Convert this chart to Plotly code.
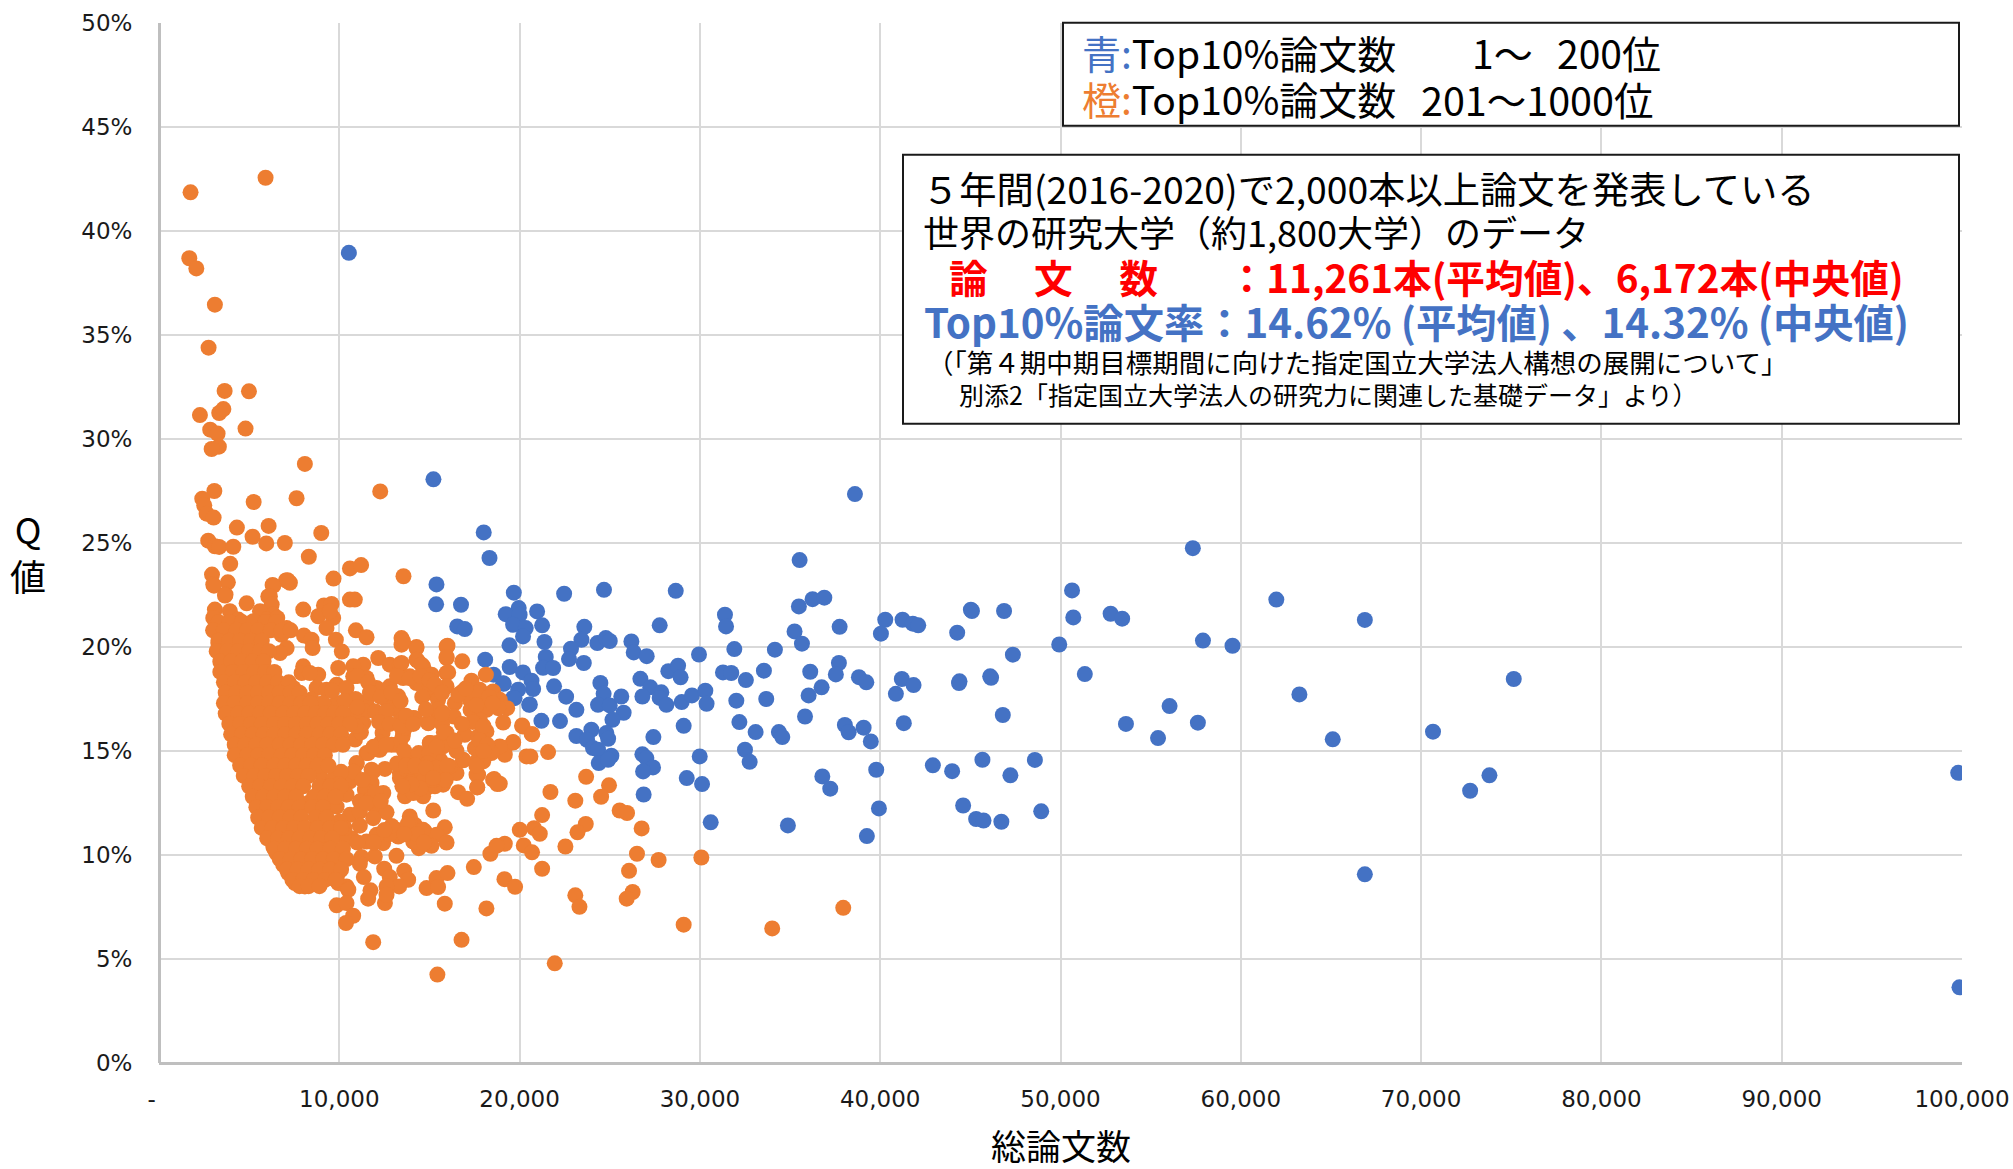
import plotly.graph_objects as go

W, H = 2013, 1169
L, R, T, B = 159, 1962, 23.3, 1063.3

# (total papers in thousands, Q value in %)
blue_points = [
(19.68,22.61),(22.47,22.56),(24.68,22.75),(28.66,22.70),(35.53,24.18),(19.95,21.87),(19.23,21.58),(20.97,21.71),(20.0,21.55),(21.25,21.04),
(19.64,21.07),(20.34,20.91),(20.19,20.51),(19.44,20.08),(21.38,20.24),(23.59,20.97),(23.43,20.35),(22.85,19.92),(22.74,19.42),(23.56,19.23),
(21.45,19.52),(21.30,19.0),(21.86,18.99),(24.31,20.19),(24.78,20.43),(25.0,20.29),(27.77,21.04),(26.2,20.27),(26.33,19.74),(27.05,19.56),
(31.39,21.55),(31.45,20.99),(29.95,19.64),(31.91,19.9),(35.49,21.95),(36.25,22.3),(36.9,22.37),(35.25,20.75),(35.66,20.16),(34.16,19.87),
(37.75,20.97),(40.28,21.31),(40.04,20.64),(41.24,21.31),(41.81,21.12),(42.11,21.04),(45.03,21.79),(44.27,20.69),(46.87,21.73),
(19.45,19.04),(20.19,18.78),(20.66,18.38),(20.75,17.98),(19.92,17.95),(19.64,17.55),(19.12,18.23),(20.53,17.22),(21.91,18.11),(22.58,17.61),
(23.15,16.98),(21.21,16.45),(22.24,16.44),(24.48,18.27),(24.66,17.75),(24.35,17.22),(25.0,17.19),(25.64,17.62),(25.77,16.84),(25.15,16.5),
(26.7,18.47),(27.25,18.06),(27.86,17.82),(26.81,17.62),(27.77,17.55),(28.14,17.22),(28.25,18.84),(28.79,19.1),(28.93,18.54),(28.99,17.35),
(29.56,17.67),(30.3,17.9),(30.37,17.27),(29.1,16.21),(31.28,18.78),(31.74,18.75),(32.55,18.41),(33.55,18.86),(32.02,17.42),(33.68,17.5),
(32.19,16.39),(33.09,15.91),(34.38,15.91),(34.57,15.67),(36.12,18.81),(37.71,19.23),(37.54,18.68),(36.75,18.06),(36.03,17.67),(35.83,16.66),
(38.82,18.55),(39.23,18.3),(41.2,18.46),(41.85,18.17),(40.87,17.75),(41.31,16.34),(44.4,18.35),(46.1,18.59),(46.8,16.73),(38.04,16.25),
(38.25,15.9),(39.08,16.12),(39.48,15.46),(23.15,15.72),(23.98,16.02),(23.74,15.54),(24.81,15.86),(24.91,15.59),(24.07,15.14),(24.35,15.06),
(24.39,14.42),(25.09,14.77),(24.91,14.58),(27.42,15.67),(26.81,14.84),(27.03,14.66),(27.4,14.21),(26.85,14.02),(26.88,12.91),(29.99,14.74),
(29.27,13.7),(30.12,13.41),(32.5,15.06),(32.76,14.48),(30.6,11.57),(34.88,11.42),(36.79,13.78),(37.23,13.19),(39.78,14.1),(39.93,12.24),
(39.26,10.91),(42.92,14.31),(43.99,14.03),(45.67,14.58),(44.6,12.38),(45.32,11.73),(45.73,11.66),(46.72,11.6),
(10.53,38.95),(15.22,28.06),(18.01,25.51),(18.33,24.28),(15.39,23.01),(15.37,22.05),(16.75,22.03),(16.54,20.99),(16.96,20.86),(18.09,19.39),
(18.56,18.67),(19.09,18.26),(19.72,17.54),(20.57,17.24),
(38.6,27.35),(57.34,24.75),(50.64,22.72),(61.97,22.28),(66.88,21.3),(52.78,21.6),(50.71,21.42),(53.42,21.36),(45.09,21.73),(57.9,20.31),
(59.54,20.06),(49.93,20.12),(47.36,19.63),(51.35,18.7),(75.14,18.46),(46.15,18.52),(44.37,18.27),(63.25,17.72),(56.05,17.16),(53.63,16.3),
(57.62,16.36),(55.41,15.62),(65.1,15.56),(70.66,15.93),(48.58,14.57),(73.79,13.83),(47.22,13.83),(72.72,13.09),(99.79,13.95),(48.93,12.1),
(66.88,9.07),(99.86,3.64),
]

orange_sparse = [
(18.9,13.43),(20.16,16.18),(20.67,15.81),(19.64,15.41),(19.18,15.14),(19.18,14.82),(20.38,14.74),(20.6,14.74),(21.58,14.95),(23.69,13.76),
(24.96,13.35),(24.52,12.8),(21.71,13.03),(23.09,12.61),(21.25,11.92),(25.55,12.14),(25.96,12.02),(26.77,11.28),(20.01,11.21),(20.8,11.29),
(21.12,11.02),(23.67,11.49),(23.21,11.09),(19.18,10.54),(20.23,10.46),(20.69,10.13),(22.54,10.41),(26.51,10.06),(27.71,9.76),(30.08,9.88),
(21.25,9.34),(26.07,9.24),(19.16,8.84),(19.75,8.47),(23.09,8.06),(23.32,7.51),(26.27,8.22),(25.94,7.90),(29.1,6.65),(34.01,6.47),(37.95,7.46),(21.95,4.79),
(5.91,42.56),(1.75,41.86),(1.68,38.69),(2.07,38.2),(3.1,36.46),(2.75,34.39),(3.64,32.31),(4.99,32.29),(2.27,31.15),(3.34,31.25),(3.57,31.44),
(4.8,30.5),(2.84,30.45),(3.25,30.26),(3.32,29.63),(2.92,29.52),(8.09,28.8),(12.27,27.48),(3.07,27.5),(2.4,27.13),(5.25,26.97),(7.63,27.15),
(2.51,26.81),(2.64,26.41),(3.03,26.22),(4.32,25.74),(6.08,25.82),(5.19,25.3),(2.73,25.11),(3.1,24.84),(3.34,24.81),(4.12,24.82),(5.95,24.98),
(6.98,25.0),(9.0,25.48),(8.31,24.34),(3.95,24.0),(10.59,23.78),(11.21,23.94),(9.68,23.29),(13.56,23.4),(2.94,23.48),(3.01,23.0),(3.82,23.11),
(6.3,22.98),(7.04,23.2),(7.26,23.09),(3.69,22.52),(4.86,22.1),(6.06,22.43),(10.59,22.28),(10.86,22.28),(15.44,4.25),
]

orange_upper = [
(3.05,22.95),(3.66,22.47),(3.1,21.8),(3.01,21.4),(3.93,21.72),(4.4,21.32),(3.57,21.07),(3.38,20.59),(4.12,20.59),(3.29,20.19),(3.47,19.71),
(3.57,18.75),(3.84,18.11),(3.79,17.47),(4.12,16.51),(4.21,15.87),(4.4,14.99),(4.58,14.42),(6.34,22.95),(7.13,23.21),(6.15,22.44),(6.25,22.04),
(5.6,21.72),(6.34,21.56),(5.23,21.24),(5.97,21.32),(6.56,21.4),(5.51,20.67),(6.06,20.83),(7.08,20.91),(6.8,20.59),(8.0,21.8),(8.04,20.55),
(8.46,20.35),(8.52,19.95),(7.08,19.95),(6.71,19.71),(9.15,22.0),(9.57,22.07),(8.83,21.48),(9.66,21.4),(9.29,20.91),(9.48,21.72),(10.92,20.8),
(11.51,20.47),(9.81,20.35),(10.14,19.78),(9.94,18.99),(13.45,20.43),(13.45,20.11),(14.28,20.0),(14.34,19.34),(15.11,18.62),(14.65,19.07),
(15.95,20.03),(15.95,19.47),(15.95,18.75),(12.16,19.47),(12.8,19.15),(13.36,19.15),(11.33,19.15),(10.77,19.07),(10.77,18.59),(11.51,18.51),
(8.0,19.07),(7.91,18.75),(8.83,18.67),(8.37,18.75),(7.45,18.03),(8.74,18.03),(9.29,17.95),(9.85,18.19),(10.4,18.03),(8.46,17.47),(9.85,17.31),
(9.11,17.31),(10.59,16.67),(11.33,16.35),(10.87,15.55),(11.7,16.99),(12.07,18.03),(12.8,18.11),(13.54,18.51),(14.28,18.27),(11.51,17.39),
(12.62,17.47),(13.27,17.63),(13.18,16.99),(14.1,16.59),(14.93,16.35),(13.54,15.87),(12.4,15.87),(13.36,15.39),(15.02,15.39),(15.95,15.87),
(10.96,14.39),(11.51,14.9),(12.16,15.07),(12.53,14.14),(11.88,14.02),(13.73,14.58),(14.65,14.58),(15.58,14.58),(13.36,13.94),(14.28,13.94),
(15.39,13.94),(15.21,17.79),(15.76,16.83),
]

orange_lower = [
(10.96,14.42),(11.79,14.1),(11.6,14.9),(12.25,15.06),(13.17,15.3),(15.39,15.38),(14.56,14.58),(13.36,13.7),(15.58,14.02),(16.5,13.94),
(16.87,14.55),(17.7,14.58),(18.26,14.9),(17.7,13.86),(17.65,13.26),(18.59,13.65),(16.59,13.02),(17.09,12.7),(15.76,13.38),(14.84,13.22),
(14.65,12.82),(13.64,12.82),(15.21,12.14),(12.44,12.98),(11.79,13.46),(11.42,13.14),(11.79,12.74),(11.14,12.58),(11.97,12.33),(12.62,12.05),
(10.59,11.93),(11.14,12.09),(11.88,11.77),(10.03,13.38),(10.59,13.54),(9.76,12.82),(9.85,12.33),(9.29,12.17),(8.92,12.82),(9.48,13.46),
(8.92,13.94),(8.19,13.86),(8.28,12.5),(13.91,11.85),(14.19,11.45),(14.74,11.13),(15.85,11.33),(15.39,10.97),(15.95,10.6),(15.11,10.44),
(14.41,10.33),(14.1,10.65),(13.17,11.21),(13.27,10.89),(12.43,10.97),(11.51,10.65),(12.07,10.97),(11.14,11.41),(10.68,10.81),(10.03,11.21),
(8.92,11.41),(10.03,11.61),(12.43,10.57),(13.17,9.96),(11.97,9.93),(11.23,9.9),(11.14,9.58),(11.36,8.94),(12.49,9.34),(12.8,8.94),(13.6,9.24),
(13.82,8.81),(13.32,8.49),(12.62,8.49),(12.53,7.69),(11.73,8.3),(11.6,7.9),(12.62,8.09),(14.84,8.41),(15.39,8.89),(15.48,8.46),(16.0,9.13),
(17.46,9.42),(15.85,7.66),(18.16,7.43),(18.38,10.06),(18.72,10.44),(11.88,5.81),(16.78,5.92),(10.4,8.49),(9.94,8.65),(10.5,8.33),(9.94,9.13),
(10.22,9.93),(9.85,7.58),(10.4,7.69),(10.77,7.08),(10.37,6.73),(9.48,10.0),(6.34,10.41),(6.52,10.09),(7.26,10.73),(6.89,9.53),(7.54,8.65),
(8.09,8.49),(8.55,8.65),(7.17,9.13),
]

orange_right = [
(13.54,20.27),(14.28,19.95),(16.0,20.06),(15.95,19.52),(16.82,19.31),(18.13,18.67),(17.33,18.38),(16.04,18.78),(14.28,19.39),(14.56,19.15),
(15.12,18.67),(13.45,19.23),(13.91,18.59),(14.47,18.27),(15.02,18.1),(15.95,18.1),(16.78,17.82),(17.79,17.94),(18.53,17.86),(15.48,17.46),
(16.41,17.3),(17.24,17.46),(17.98,17.46),(18.9,17.46),(19.31,17.06),(18.81,17.06),(17.28,16.98),(18.16,16.98),(19.09,16.37),(17.79,16.5),
(16.35,16.66),(15.48,16.74),(14.93,16.34),(14.19,16.58),(13.45,16.5),(20.14,16.23),(20.7,15.81),(19.64,15.43),(18.9,15.22),(16.96,15.78),
(18.16,15.94),(17.7,15.7),(17.52,15.14),(15.85,15.7),(15.02,15.38),(15.76,15.22),(18.44,14.9),(17.98,14.5),(16.87,14.58),(17.61,13.86),
(17.65,13.25),(18.53,13.62),(18.76,13.41),(15.76,13.94),(14.56,14.66),(15.39,14.5),(13.73,14.66),(16.13,14.26),(14.93,13.94),(13.73,14.1),
(14.47,13.86),(13.91,11.69),(14.1,12.98),(14.65,11.21),(13.73,11.05),(13.51,15.7),(13.64,16.1),(14.28,13.38),(15.3,13.3),
]

orange_middle = [
(11.0,18.6),(11.6,18.3),(13.2,18.6),(13.9,18.5),(14.5,18.6),(15.0,18.4),(11.7,17.8),(12.3,17.6),(12.9,17.8),(13.4,17.4),(11.4,16.9),(12.0,16.9),
(12.6,16.9),(11.2,16.3),(12.2,16.4),(12.8,16.3),(13.4,16.2),(12.3,15.4),(12.9,15.3),(13.6,15.0),(14.4,14.9),(15.0,14.9),(15.4,15.2),(10.8,14.0),
(9.7,13.7),(11.9,15.2),(12.6,15.3),(13.2,14.4),(13.9,14.2),(14.9,14.4),(15.4,14.2),(16.0,14.3),(14.0,13.5),(14.6,13.5),(15.2,13.6),(15.9,13.6),
(11.3,13.6),(12.0,13.0),(11.5,12.5),(12.3,12.6),(13.8,11.5),(14.3,11.0),(14.7,10.6),(12.8,11.0),(12.9,11.4),(13.6,11.0),(10.3,10.8),(11.0,10.6),
(11.9,10.6),(12.5,11.2),(9.5,11.2),(10.3,11.3),(10.1,14.0),(10.0,13.4),(10.4,12.9),(9.7,12.4),(17.6,17.8),(18.3,17.6),(17.6,17.2),(18.5,17.3),
(17.4,16.4),(18.0,16.2),(17.8,15.5),(18.2,15.3),(18.0,15.0),(17.6,14.3),(13.7,14.3),(14.2,14.3),(14.8,14.2),(15.2,13.7),(14.5,13.2),(14.0,13.4),
(13.5,13.3),(15.3,18.2),(15.7,17.8),(15.5,17.0),(15.7,16.3),(15.8,15.9),(15.7,16.8),(13.7,16.7),(14.1,16.3),
(10.8,16.8),(11.2,15.9),(10.9,17.5),(10.3,17.4),(9.6,17.9),(10.9,16.2),(11.0,17.1),(14.6,17.6),(14.8,17.0),(16.5,15.0),(16.4,15.5),(16.8,16.3),
(16.6,17.7),(17.0,18.0),
]

# Q value row -> total papers (thousands) in the packed cluster
orange_cluster_rows = {
21.2:[3.3,3.9,4.6,5.3,5.9,6.5],
20.8:[3.0,3.6,4.3,4.9,5.5,6.2,6.8,7.3],
20.3:[3.3,3.9,4.5,5.1,5.7],
19.8:[3.2,3.8,4.4,5.0,5.6,6.1],
19.3:[3.4,4.0,4.6,5.2,5.8],
18.8:[3.4,4.1,4.7,5.3,5.9,6.4],
18.3:[3.6,4.2,4.8,5.4,6.0,6.6,7.2],
17.8:[3.7,4.3,4.9,5.5,6.1,6.7,7.3,7.8],
17.3:[3.6,4.2,4.9,5.5,6.1,6.7,7.3,7.9,8.4],
16.8:[3.7,4.4,5.0,5.6,6.2,6.9,7.5,8.1,8.7,9.2,9.7,10.2],
16.3:[3.9,4.5,5.1,5.7,6.4,7.0,7.6,8.2,8.8,9.4,10.0,10.6],
15.8:[4.0,4.6,5.2,5.8,6.4,7.0,7.6,8.2,8.9,9.5,10.1],
15.3:[4.2,4.8,5.4,6.0,6.7,7.3,7.9,8.5,9.1,9.7,10.2],
14.8:[4.2,4.9,5.5,6.1,6.8,7.4,8.0,8.6,9.2],
14.3:[4.5,5.1,5.7,6.4,7.0,7.6,8.2,8.8,9.4],
13.8:[4.7,5.3,5.9,6.5,7.1,7.7,8.3],
13.3:[5.0,5.6,6.2,6.8,7.4,8.0,8.9,9.5,10.1],
12.8:[5.2,5.8,6.4,7.0,7.6,8.6,9.2,9.8],
12.3:[5.4,6.0,6.6,7.2,7.8,8.5,9.1],
11.8:[5.5,6.1,6.7,7.3,7.9,8.7,9.3],
11.3:[5.7,6.3,6.9,7.5,8.1,8.8,9.5,10.1],
10.8:[6.0,6.6,7.2,7.8,8.4,9.0,9.6],
10.3:[6.4,7.0,7.6,8.2,8.8,9.5,10.2],
9.8:[6.7,7.3,7.9,8.5,9.1,9.7,10.4],
9.3:[7.1,7.7,8.3,8.9,9.5,10.1],
8.8:[7.4,8.0,8.6,9.2,9.8],
8.5:[7.8,8.3,8.9],
}

x_tick_values = [0,10000,20000,30000,40000,50000,60000,70000,80000,90000,100000]
x_tick_labels = ["-\u00a0\u00a0","10,000","20,000","30,000","40,000","50,000","60,000","70,000","80,000","90,000","100,000"]
y_tick_values = [0,5,10,15,20,25,30,35,40,45,50]
y_tick_labels = ["0%","5%","10%","15%","20%","25%","30%","35%","40%","45%","50%"]

BLUE, ORANGE = "#4472C4", "#ED7D31"
CJK = "Noto Sans CJK JP"

orange_points = orange_sparse + orange_upper + orange_lower + orange_right + orange_middle
for q, xs in orange_cluster_rows.items():
    orange_points = orange_points + [(v, q) for v in xs]

fig = go.Figure()
fig.add_trace(go.Scatter(x=[p[0]*1000 for p in blue_points], y=[p[1] for p in blue_points], mode="markers",
                         marker=dict(color=BLUE, size=16, line=dict(width=0)), showlegend=False, name="1-200"))
fig.add_trace(go.Scatter(x=[p[0]*1000 for p in orange_points], y=[p[1] for p in orange_points], mode="markers",
                         marker=dict(color=ORANGE, size=16, line=dict(width=0)), showlegend=False, name="201-1000"))

def px(x): return (x-L)/(R-L)
def py(y): return (B-y)/(B-T)

def box(x0,y0,x1,y1):
    fig.add_shape(type="rect", xref="paper", yref="paper", x0=px(x0), x1=px(x1), y0=py(y1), y1=py(y0),
                  fillcolor="white", line=dict(color="#1a1a1a", width=2), layer="above")

def text(x,y,s,size,color="black",bold=False,anchor="left",font=CJK):
    fig.add_annotation(xref="paper", yref="paper", x=px(x), y=py(y), xanchor=anchor, yanchor="middle",
                       text=("<b>%s</b>" % s) if bold else s, showarrow=False,
                       font=dict(family=font, size=size, color=color))

box(1063,23,1959,126)
box(903,155,1959,424)
text(1080,52.5,'<span style="color:%s">青:</span>Top10%%論文数' % BLUE,39)
text(1470,52.5,'1～',39)
text(1555,52.5,'200位',39)
text(1080,98.5,'<span style="color:%s">橙:</span>Top10%%論文数' % ORANGE,39)
text(1419,98.5,'201～1000位',39.5)

text(920,188,'５年間(2016-2020)で2,000本以上論文を発表している',37.3)
text(921,231,'世界の研究大学（約1,800大学）のデータ',36)
text(947,276,'論\u3000\u2009文\u3000\u2009数\u3000\u2009\u2009\u2009\u2009：11,261本(平均値)、6,172本(中央値)',38.7,"#FF0000",True)
text(922,321,'Top10%論文率：14.62% (平均値) 、14.32% (中央値)',40.3,BLUE,True)
text(925,362,'（「第４期中期目標期間に向けた指定国立大学法人構想の展開について」',26.5)
text(957,394,'別添2「指定国立大学法人の研究力に関連した基礎データ」より）',25)

text(1061,1145,'総論文数',35,anchor="center")
text(28,552,'Q<br>値',36,anchor="center")

tickfont = dict(family="DejaVu Sans", size=23, color="#1a1a1a")
fig.update_xaxes(range=[0,100000], tickmode="array", tickvals=x_tick_values, ticktext=x_tick_labels,
                 showgrid=True, gridcolor="#D9D9D9", gridwidth=2, showline=False,
                 zeroline=True, zerolinecolor="#BFBFBF", zerolinewidth=3,
                 ticks="outside", ticklen=15, tickcolor="rgba(0,0,0,0)", tickfont=tickfont)
fig.update_yaxes(range=[0,50], tickmode="array", tickvals=y_tick_values, ticktext=y_tick_labels,
                 showgrid=True, gridcolor="#D9D9D9", gridwidth=2, showline=False,
                 zeroline=True, zerolinecolor="#BFBFBF", zerolinewidth=3,
                 ticks="outside", ticklen=21, tickcolor="rgba(0,0,0,0)", tickfont=tickfont)
fig.update_layout(width=W, height=H, autosize=False, plot_bgcolor="white", paper_bgcolor="white",
                  margin=dict(l=L, r=W-R, t=T, b=H-B, pad=0, autoexpand=False), showlegend=False)
fig.write_html("out.html", config={"displayModeBar": False},
               post_script="document.body.style.margin='0';document.documentElement.style.overflow='hidden';")
